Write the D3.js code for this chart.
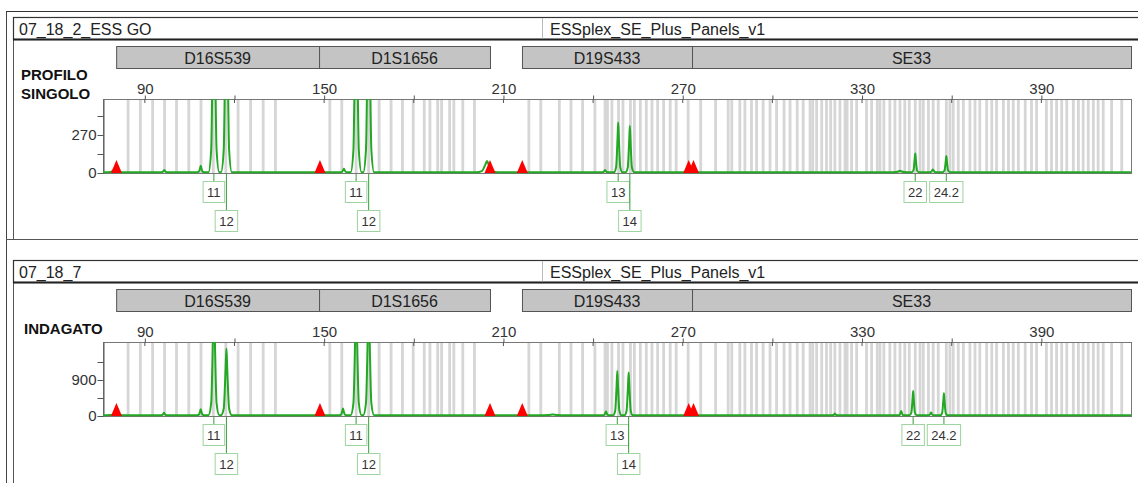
<!DOCTYPE html>
<html>
<head>
<meta charset="utf-8">
<script src="https://cdn.jsdelivr.net/npm/d3@7"></script>
<style>
  body { margin: 0; background: #fff; }
  svg { display: block; font-family: "Liberation Sans", Arial, sans-serif; }
</style>
</head>
<body>
<svg id="chart" width="1138" height="483"></svg>
<script>
// ---- shared data (size in bp) ----
const sizeDomain = [76, 420];
const markerNames = ["D16S539", "D1S1656", "D19S433", "SE33"];
const markerStart = [80.4, 148.3, 216.2, 273.1];
const markerEnd = [148.3, 205.5, 273.1, 420];
const sizeTicks = [90, 150, 210, 270, 330, 390];
const sizeMinorTicks = [120, 180, 240, 300, 360];
const panelName = "ESSplex_SE_Plus_Panels_v1";

// bin (ladder) positions, read from the grey stripes
const binSizes = [
  84.4, 88.5, 92.6, 96.6, 100.6, 104.7, 108.8, 112.9, 117.1, 121.2, 125.4, 129.6, 133.7,
  151.9, 155.9, 160.7, 164.9, 168.4, 172.4, 176.2, 179.8, 183.5, 185.4, 188.0, 189.3, 192.0, 193.4, 196.4, 200.3,
  218.5, 222.5, 228.7, 232.6, 236.5, 240.6, 244.0, 244.8, 246.3, 248.5, 250.0, 252.5, 253.8, 255.8, 257.8, 259.7, 261.6, 263.6, 265.8, 267.8,
  271.8, 276.0, 281.0, 285.2, 286.4, 289.1, 290.8, 293.0, 294.7, 296.9, 299.2, 301.4, 303.9, 305.9, 308.3, 310.3,
  312.6, 313.5, 314.8, 316.5, 318.1, 319.5, 320.9, 322.6, 324.3, 325.0, 326.5, 328.2, 331.5, 333.2, 335.1, 336.0,
  337.3, 339.3, 341.0, 342.7, 344.3, 345.8, 347.8, 349.4, 350.5, 352.2, 353.8, 355.5, 358.2, 359.4, 360.5, 362.2,
  363.9, 366.1, 367.8, 369.4, 371.7, 373.4, 375.0, 377.3, 379.0, 380.6, 382.3, 384.6, 386.7, 388.4, 391.7, 393.4,
  395.1, 396.8, 398.5, 400.7, 402.4, 404.0, 405.7, 407.4, 409.0, 410.7, 413.5, 416.9
];

// red size-standard flags on the baseline
const flagSizes = [80.5, 148.6, 205.5, 216.3, 272.0, 273.6];

// ---- panel 1 ----
const p1Title = "07_18_2_ESS GO";
const p1Label = ["PROFILO", "SINGOLO"];
const p1YMax = 526;
const p1YTicks = [0, 135, 270, 405];
const p1YLabels = [0, 270];
const p1PeakSize   = [80.0, 96.5, 108.7, 113.1, 117.3, 156.6, 160.7, 164.9, 204.5, 244.0, 248.4, 252.3, 342.7, 347.8, 353.7, 358.2];
const p1PeakHeight = [20,   15,   45,    1600,  1600,  25,    1600,  1600,  80,    15,    353,   329,   10,    133,   20,    116];
const p1PeakWidth  = [3.0,  1.3,  1.2,   1.8,   1.8,   1.2,   1.8,   1.8,   3.5,   1.2,   1.4,   1.4,   2.5,   1.2,   1.3,   1.2];
const p1AlleleNames = ["11", "12", "11", "12", "13", "14", "22", "24.2"];
const p1AlleleSize  = [113.1, 117.3, 160.7, 164.9, 248.4, 252.3, 347.8, 358.2];

// ---- panel 2 ----
const p2Title = "07_18_7";
const p2Label = ["INDAGATO"];
const p2YMax = 1850;
const p2YTicks = [0, 450, 900, 1350];
const p2YLabels = [0, 900];
const p2PeakSize   = [80.0, 96.4, 108.7, 113.1, 117.3, 156.3, 160.7, 164.9, 226.5, 244.3, 248.1, 251.9, 320.9, 343.1, 347.1, 353.1, 357.4];
const p2PeakHeight = [30,   60,   150,   3000,  1667,  167,   3000,  3000,  20,    92,    1108,  1067,  40,    108,   608,   67,    550];
const p2PeakWidth  = [3.0,  1.2,  1.2,   1.8,   1.8,   1.2,   1.8,   1.8,   3.0,   1.1,   1.4,   1.4,   1.0,   1.0,   1.2,   1.0,   1.2];
const p2AlleleNames = ["11", "12", "11", "12", "13", "14", "22", "24.2"];
const p2AlleleSize  = [113.1, 117.3, 160.7, 164.9, 248.1, 251.9, 347.1, 357.4];

const W = 1138, H = 483;
const plotLeft = 103, plotRight = 1131;
const svg = d3.select("#chart");

const x = d3.scaleLinear().domain(sizeDomain).range([plotLeft, plotRight]);

// outer frame
svg.append("line").attr("x1", 6.5).attr("x2", 6.5).attr("y1", 11).attr("y2", H)
  .attr("stroke", "#444").attr("stroke-width", 1);
svg.append("line").attr("x1", 6).attr("x2", W).attr("y1", 11.5).attr("y2", 11.5)
  .attr("stroke", "#333").attr("stroke-width", 1.2);
svg.append("line").attr("x1", 6).attr("x2", W).attr("y1", 239.5).attr("y2", 239.5)
  .attr("stroke", "#555").attr("stroke-width", 1);

function drawPanel(y0, bottom, cfg, idx) {
  const g = svg.append("g");
  const plotTop = y0 + 82, base = y0 + 156;
  const y = d3.scaleLinear().domain([0, cfg.yMax]).range([base, plotTop]);

  // panel left edge
  g.append("line").attr("x1", 13.5).attr("x2", 13.5).attr("y1", y0).attr("y2", bottom)
    .attr("stroke", "#555");

  // header row
  g.append("rect").attr("x", 13.5).attr("y", y0 + 0.5).attr("width", W).attr("height", 22)
    .attr("fill", "#fff").attr("stroke", "#333").attr("stroke-width", 1.2);
  g.append("line").attr("x1", 13).attr("x2", W).attr("y1", y0 + 22.5).attr("y2", y0 + 22.5)
    .attr("stroke", "#222").attr("stroke-width", 2);
  g.append("line").attr("x1", 542.5).attr("x2", 542.5).attr("y1", y0 + 1).attr("y2", y0 + 21.5)
    .attr("stroke", "#bbb");
  g.append("text").attr("x", 19).attr("y", y0 + 18).attr("font-size", 16).attr("fill", "#222")
    .text(cfg.title);
  g.append("text").attr("x", 550).attr("y", y0 + 18).attr("font-size", 16).attr("fill", "#222")
    .text(panelName);

  // marker bars
  const bars = g.selectAll(".marker").data(markerNames).enter().append("g");
  bars.append("rect")
    .attr("x", (d, i) => x(markerStart[i]) + 0.5)
    .attr("y", y0 + 29.5)
    .attr("width", (d, i) => x(markerEnd[i]) - x(markerStart[i]))
    .attr("height", 22)
    .attr("fill", "#c4c4c4").attr("stroke", "#555").attr("stroke-width", 1);
  bars.append("text")
    .attr("x", (d, i) => (x(markerStart[i]) + x(markerEnd[i])) / 2)
    .attr("y", y0 + 46.5)
    .attr("text-anchor", "middle").attr("font-size", 16).attr("fill", "#222")
    .text(d => d);

  // side label
  const lblY = cfg.label.length > 1 ? [y0 + 63, y0 + 82] : [y0 + 74];
  g.selectAll(".side").data(cfg.label).enter().append("text")
    .attr("x", idx === 0 ? 21 : 24).attr("y", (d, i) => lblY[i])
    .attr("font-size", 15).attr("font-weight", "bold").attr("fill", "#111")
    .text(d => d);

  // plot background + bins
  g.append("rect").attr("x", plotLeft).attr("y", plotTop).attr("width", plotRight - plotLeft)
    .attr("height", base - plotTop).attr("fill", "#fff");
  g.selectAll(".bin").data(binSizes).enter().append("rect")
    .attr("x", d => x(d) - 1.4).attr("y", plotTop).attr("width", 2.8).attr("height", base - plotTop)
    .attr("fill", "#d6d6d6");

  // frame
  g.append("rect").attr("x", plotLeft + 0.5).attr("y", plotTop + 0.5)
    .attr("width", plotRight - plotLeft).attr("height", base - plotTop)
    .attr("fill", "none").attr("stroke", "#777").attr("stroke-width", 1);

  // top size axis
  const axTop = g.append("g").attr("transform", `translate(0,${plotTop + 0.5})`)
    .call(d3.axisTop(x).tickValues(sizeTicks.concat(sizeMinorTicks))
      .tickFormat(d => sizeTicks.includes(d) ? d : "").tickSizeInner(4).tickSizeOuter(0).tickPadding(2));
  axTop.select(".domain").remove();
  axTop.selectAll("line").attr("stroke", "#555");
  axTop.selectAll("text").attr("font-size", 15).attr("fill", "#333")
    .attr("font-family", "'Liberation Sans', Arial, sans-serif");
  g.selectAll(".tin").data(sizeTicks.concat(sizeMinorTicks)).enter().append("line")
    .attr("x1", d => x(d)).attr("x2", d => x(d))
    .attr("y1", plotTop).attr("y2", plotTop + 4).attr("stroke", "#555");

  // left intensity axis
  const axLeft = g.append("g").attr("transform", `translate(${plotLeft + 0.5},0)`)
    .call(d3.axisLeft(y).tickValues(cfg.yTicks)
      .tickFormat(d => cfg.yLabels.includes(d) ? d : "").tickSizeInner(6).tickSizeOuter(0).tickPadding(1));
  axLeft.select(".domain").attr("stroke", "#555");
  axLeft.selectAll("line").attr("stroke", "#555");
  axLeft.selectAll("text").attr("font-size", 15).attr("fill", "#333")
    .attr("font-family", "'Liberation Sans', Arial, sans-serif");

  // trace built from the peak table (sharp apex, wide foot)
  const pts = [[sizeDomain[0], 0]];
  cfg.peakSize.forEach((s, i) => {
    const h = cfg.peakHeight[i], w = cfg.peakWidth[i];
    pts.push([s - w, 0], [s - 0.5 * w, 0.1 * h], [s - 0.15 * w, 0.7 * h], [s, h],
             [s + 0.15 * w, 0.7 * h], [s + 0.5 * w, 0.1 * h], [s + w, 0]);
  });
  pts.push([sizeDomain[1], 0]);
  pts.sort((a, b) => a[0] - b[0]);

  const clipId = "clip" + idx;
  g.append("clipPath").attr("id", clipId).append("rect")
    .attr("x", plotLeft).attr("y", plotTop).attr("width", plotRight - plotLeft).attr("height", base - plotTop + 2);

  const line = d3.line().x(d => x(d[0])).y(d => y(d[1]) - 0.8).curve(d3.curveMonotoneX);
  g.append("path").attr("clip-path", `url(#${clipId})`).datum(pts)
    .attr("d", line).attr("fill", "none").attr("stroke", "#22a822").attr("stroke-width", 2)
    .attr("stroke-linejoin", "round");

  // size-standard flags
  g.selectAll(".flag").data(flagSizes).enter().append("path")
    .attr("d", d => `M${x(d) - 5.5},${base} L${x(d)},${base - 13} L${x(d) + 5.5},${base} Z`)
    .attr("fill", "#ff0000");

  // allele call boxes
  let lastRight = -Infinity;
  cfg.alleleNames.forEach((name, i) => {
    const ax = x(cfg.alleleSize[i]);
    const t = g.append("text").attr("font-size", 13).attr("fill", "#333")
      .attr("text-anchor", "middle").text(name);
    const bw = t.node().getComputedTextLength() + 8;
    const left = ax - bw / 2;
    const row = left < lastRight + 1 ? 2 : 1;
    if (row === 1) lastRight = left + bw;
    const by = base + (row === 1 ? 8 : 37);
    g.append("line").attr("x1", ax).attr("x2", ax).attr("y1", base + 1).attr("y2", by)
      .attr("stroke", "#3a9e3a").attr("stroke-width", 1);
    g.append("rect").attr("x", left).attr("y", by + 0.5).attr("width", bw).attr("height", 21)
      .attr("fill", "#fff").attr("stroke", "#9fd39f").attr("stroke-width", 1);
    t.attr("x", ax).attr("y", by + 16).raise();
  });
}

drawPanel(17, 239, {
  title: p1Title, label: p1Label, yMax: p1YMax, yTicks: p1YTicks, yLabels: p1YLabels,
  peakSize: p1PeakSize, peakHeight: p1PeakHeight, peakWidth: p1PeakWidth,
  alleleNames: p1AlleleNames, alleleSize: p1AlleleSize
}, 0);

drawPanel(260, H, {
  title: p2Title, label: p2Label, yMax: p2YMax, yTicks: p2YTicks, yLabels: p2YLabels,
  peakSize: p2PeakSize, peakHeight: p2PeakHeight, peakWidth: p2PeakWidth,
  alleleNames: p2AlleleNames, alleleSize: p2AlleleSize
}, 1);
</script>
</body>
</html>
